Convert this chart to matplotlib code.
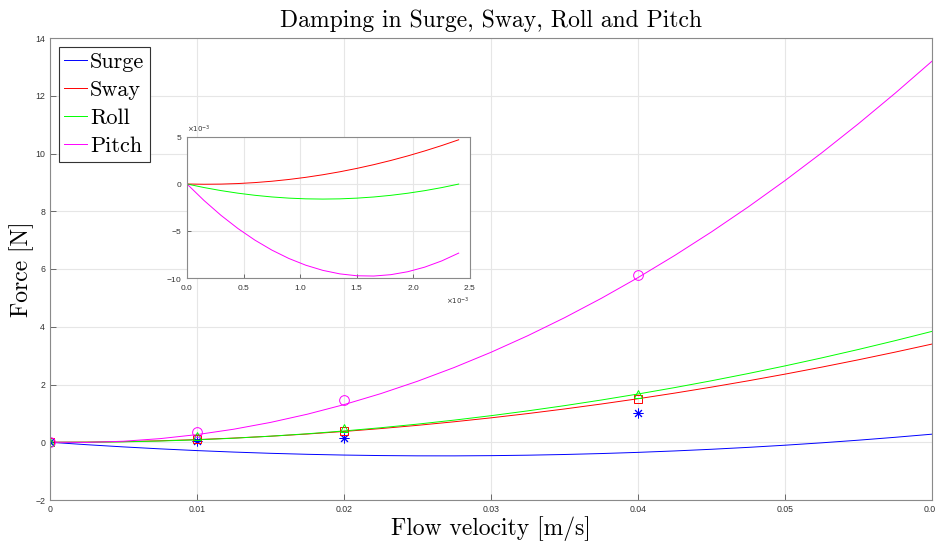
import numpy as np
import matplotlib
matplotlib.use('Agg')
import matplotlib.pyplot as plt
from matplotlib.ticker import FuncFormatter

# fitted curves
x_fit = [0, 0.0025, 0.005, 0.0075, 0.01, 0.0125, 0.015, 0.0175, 0.02, 0.0225,
         0.025, 0.0275, 0.03, 0.0325, 0.035, 0.0375, 0.04, 0.0425, 0.045,
         0.0475, 0.05, 0.0525, 0.055, 0.0575, 0.06]
surge_fit = [0, -0.0848, -0.1612, -0.2293, -0.2889, -0.3402, -0.3830, -0.4175,
             -0.4436, -0.4613, -0.4706, -0.4716, -0.4641, -0.4483, -0.4240,
             -0.3914, -0.3504, -0.3010, -0.2432, -0.1771, -0.1025, -0.0196,
             0.0718, 0.1718, 0.2796]
sway_fit = [0, 0.0051, 0.0222, 0.0510, 0.0918, 0.1444, 0.2090, 0.2853, 0.3736,
            0.4737, 0.5858, 0.7096, 0.8454, 0.9930, 1.1526, 1.3239, 1.5072,
            1.7023, 1.9094, 2.1282, 2.3590, 2.6016, 2.8562, 3.1225, 3.4008]
roll_fit = [0, 0.0003, 0.0144, 0.0425, 0.0844, 0.1402, 0.2099, 0.2935, 0.3910,
            0.5024, 0.6276, 0.7668, 0.9198, 1.0867, 1.2675, 1.4622, 1.6708,
            1.8933, 2.1296, 2.3799, 2.6440, 2.9220, 3.2139, 3.5197, 3.8394]
pitch_fit = [0, -0.0064, 0.0355, 0.1258, 0.2645, 0.4516, 0.6870, 0.9708, 1.3030,
             1.6836, 2.1125, 2.5898, 3.1155, 3.6896, 4.3120, 4.9828, 5.7020,
             6.4696, 7.2855, 8.1498, 9.0625, 10.0236, 11.0330, 12.0908, 13.1970]

# measured points
x_meas = [0, 0.01, 0.02, 0.04]
surge_meas = [0, 0.03, 0.16, 1.0]
sway_meas = [0, 0.11, 0.39, 1.50]
roll_meas = [0, 0.21, 0.49, 1.67]
pitch_meas = [0, 0.34, 1.46, 5.78]

# zoom near the origin (inset), x and y in units of 1e-3
x_zoom = [0, 0.15, 0.3, 0.45, 0.6, 0.75, 0.9, 1.05, 1.2, 1.35, 1.5, 1.65, 1.8,
          1.95, 2.1, 2.25, 2.4]
sway_zoom = [0, -0.027, -0.011, 0.048, 0.150, 0.294, 0.482, 0.711, 0.984, 1.299,
             1.658, 2.058, 2.502, 2.988, 3.518, 4.089, 4.704]
roll_zoom = [0, -0.376, -0.701, -0.977, -1.202, -1.378, -1.503, -1.579, -1.604,
             -1.580, -1.505, -1.381, -1.206, -0.982, -0.708, -0.383, -0.009]
pitch_zoom = [0, -1.751, -3.331, -4.737, -5.972, -7.034, -7.924, -8.642, -9.188,
              -9.561, -9.762, -9.791, -9.647, -9.332, -8.844, -8.183, -7.351]

labels = ['Surge', 'Sway', 'Roll', 'Pitch']
colors = ['#0000ff', '#ff0000', '#00ff00', '#ff00ff']
markers = [(8, 2, 0), 's', '^', 'o']
msizes = [7, 6, 6, 7]

serif = 'cmr10'
tickfont = 'Liberation Sans'
grid_c = '#e6e6e6'
frame_c = '#8a8a8a'

fig = plt.figure(figsize=(9.35, 5.44), dpi=100)
ax = fig.add_axes([50/935, 1-500/544, 882/935, 462/544])

fits = [surge_fit, sway_fit, roll_fit, pitch_fit]
meas = [surge_meas, sway_meas, roll_meas, pitch_meas]
for lab, c, yf in zip(labels, colors, fits):
    ax.plot(x_fit, yf, '-', color=c, lw=0.7, label=lab)
for c, m, ms, ym in zip(colors, markers, msizes, meas):
    ax.plot(x_meas, ym, linestyle='none', marker=m, color=c, mfc='none',
            mew=0.7, ms=ms)

ax.set_xlim(0, 0.06)
ax.set_ylim(-2, 14)
ax.set_xticks(np.arange(0, 0.061, 0.01))
ax.set_yticks(np.arange(-2, 15, 2))
ax.xaxis.set_major_formatter(FuncFormatter(lambda v, p: '%g' % round(v, 4)))
ax.grid(True, color=grid_c, lw=0.8)
ax.set_axisbelow(True)
ax.tick_params(direction='in', length=4, width=0.6, color='#555555',
               labelsize=6.3, labelcolor='#333333')
for t in ax.get_xticklabels() + ax.get_yticklabels():
    t.set_family(tickfont)
for s in ax.spines.values():
    s.set_color(frame_c)
    s.set_linewidth(0.8)

ax.set_title('Damping in Surge, Sway, Roll and Pitch', family=serif, fontsize=17, pad=8)
ax.set_xlabel('Flow velocity [m/s]', family=serif, fontsize=17)
ax.xaxis.set_label_coords(0.5, -0.035)
ax.set_ylabel('Force [N]', family=serif, fontsize=17)
ax.yaxis.set_label_coords(-0.018, 0.5)

leg = ax.legend(loc='upper left', prop={'family': serif, 'size': 16},
                handlelength=1.0, handletextpad=0.15, borderpad=0.25,
                labelspacing=0.38, fancybox=False, framealpha=1,
                borderaxespad=0.4)
leg.get_frame().set_edgecolor('#333333')
leg.get_frame().set_linewidth(0.8)

# inset
ax2 = fig.add_axes([187/935, 1-278/544, 283/935, 141/544])
for c, yz in zip(colors[1:], [sway_zoom, roll_zoom, pitch_zoom]):
    ax2.plot(np.array(x_zoom) * 1e-3, np.array(yz) * 1e-3, '-', color=c, lw=0.7)
ax2.set_xlim(0, 0.0025)
ax2.set_ylim(-0.01, 0.005)
ax2.set_xticks(np.arange(0, 0.00251, 0.0005))
ax2.set_yticks([-0.01, -0.005, 0, 0.005])
ax2.ticklabel_format(style='sci', scilimits=(-3, -3), useMathText=True)
ax2.grid(True, color=grid_c, lw=0.8)
ax2.set_axisbelow(True)
ax2.tick_params(direction='in', length=3, width=0.6, color='#555555',
                labelsize=6, labelcolor='#333333')
for t in ax2.get_xticklabels() + ax2.get_yticklabels():
    t.set_family(tickfont)
for axis in (ax2.xaxis, ax2.yaxis):
    axis.get_offset_text().set_fontsize(5)
    axis.get_offset_text().set_color('#333333')
for s in ax2.spines.values():
    s.set_color(frame_c)
    s.set_linewidth(0.8)

fig.savefig('out.png', dpi=100)
